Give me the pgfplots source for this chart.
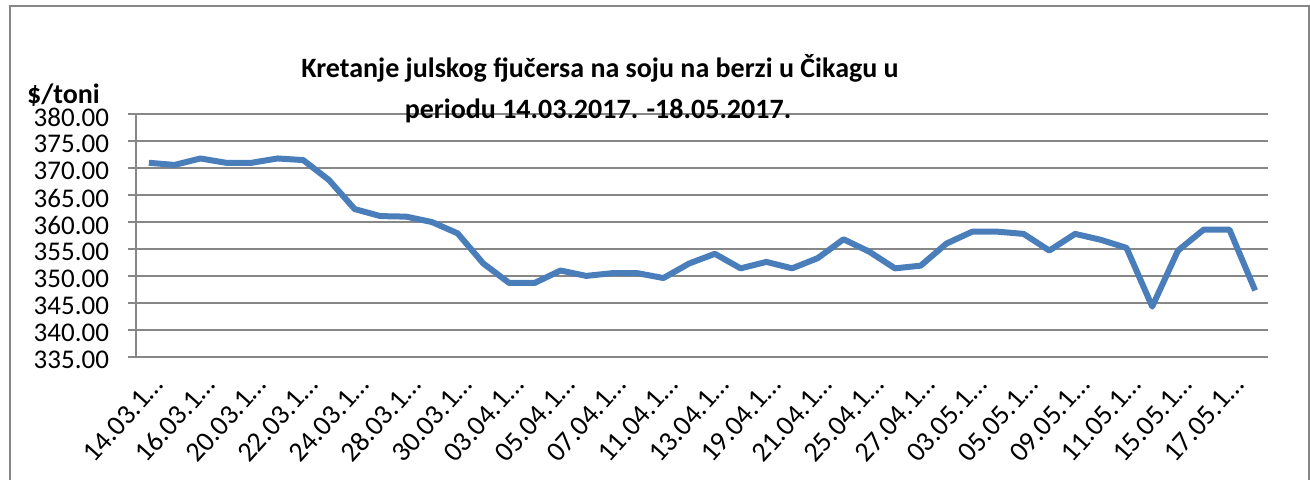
\documentclass[border=0pt]{standalone}
\usepackage{pgfplots}
\pgfplotsset{compat=1.18}
\usepackage{fontspec}
\setmainfont{Carlito}
\definecolor{lineblue}{HTML}{4A7EBB}
\definecolor{gridgray}{HTML}{878787}
\begin{document}
\begin{tikzpicture}
\useasboundingbox (0,0) rectangle (655pt,240pt);
\draw[gridgray, line width=1pt] (4.75pt,-10pt) -- (4.75pt,237pt) -- (654.5pt,237pt) -- (654.5pt,-10pt);
\begin{axis}[
  at={(68pt,61.65pt)}, anchor=south west,
  scale only axis, width=566pt, height=121.2pt,
  xmin=-0.5, xmax=43.5, ymin=335, ymax=380,
  axis lines=left, axis line style={-, gridgray, line width=1pt},
  ytick={335,340,...,380},
  ymajorgrids, grid style={gridgray, line width=1pt},
  y tick style={gridgray, line width=1pt}, tick align=outside, major tick length=4pt,
  xtick={0,2,...,42}, x tick style={draw=none},
  xticklabels={14.03.1…,16.03.1…,20.03.1…,22.03.1…,24.03.1…,28.03.1…,30.03.1…,03.04.1…,05.04.1…,07.04.1…,11.04.1…,13.04.1…,19.04.1…,21.04.1…,25.04.1…,27.04.1…,03.05.1…,05.05.1…,09.05.1…,11.05.1…,15.05.1…,17.05.1…},
  /pgf/number format/assume math mode=true,
  yticklabel style={/pgf/number format/fixed, /pgf/number format/fixed zerofill, /pgf/number format/precision=2, anchor=east, xshift=-6pt, yshift=-1.5pt},
  ticklabel style={font=\fontsize{13.5}{14}\selectfont},
  x tick label style={xshift=7pt, yshift=-5pt, rotate=48, anchor=east, font=\fontsize{14}{15}\selectfont},
  clip=false,
]
\addplot[lineblue, line width=3pt, line join=round] coordinates {
(0,371.0) (1,370.6) (2,371.8) (3,371.0) (4,371.0) (5,371.8) (6,371.5) (7,367.8)
(8,362.4) (9,361.1) (10,361.0) (11,360.0) (12,357.9) (13,352.3) (14,348.7) (15,348.7)
(16,351.0) (17,350.0) (18,350.5) (19,350.5) (20,349.6) (21,352.3) (22,354.1) (23,351.4)
(24,352.6) (25,351.4) (26,353.3) (27,356.8) (28,354.5) (29,351.4) (30,351.9) (31,356.0)
(32,358.2) (33,358.2) (34,357.8) (35,354.7) (36,357.8) (37,356.7) (38,355.2) (39,344.3)
(40,354.7) (41,358.6) (42,358.6) (43,347.3)
};
\end{axis}
\node[font=\bfseries\fontsize{14}{16}\selectfont, anchor=base] at (300pt,201pt) {Kretanje julskog fjučersa na soju na berzi u Čikagu u};
\node[font=\bfseries\fontsize{14}{16}\selectfont, anchor=base] at (299pt,180.5pt) {periodu 14.03.2017. -18.05.2017.};
\node[font=\bfseries\fontsize{14}{16}\selectfont] at (31.75pt,192.5pt) {\$/toni};
\end{tikzpicture}
\end{document}
